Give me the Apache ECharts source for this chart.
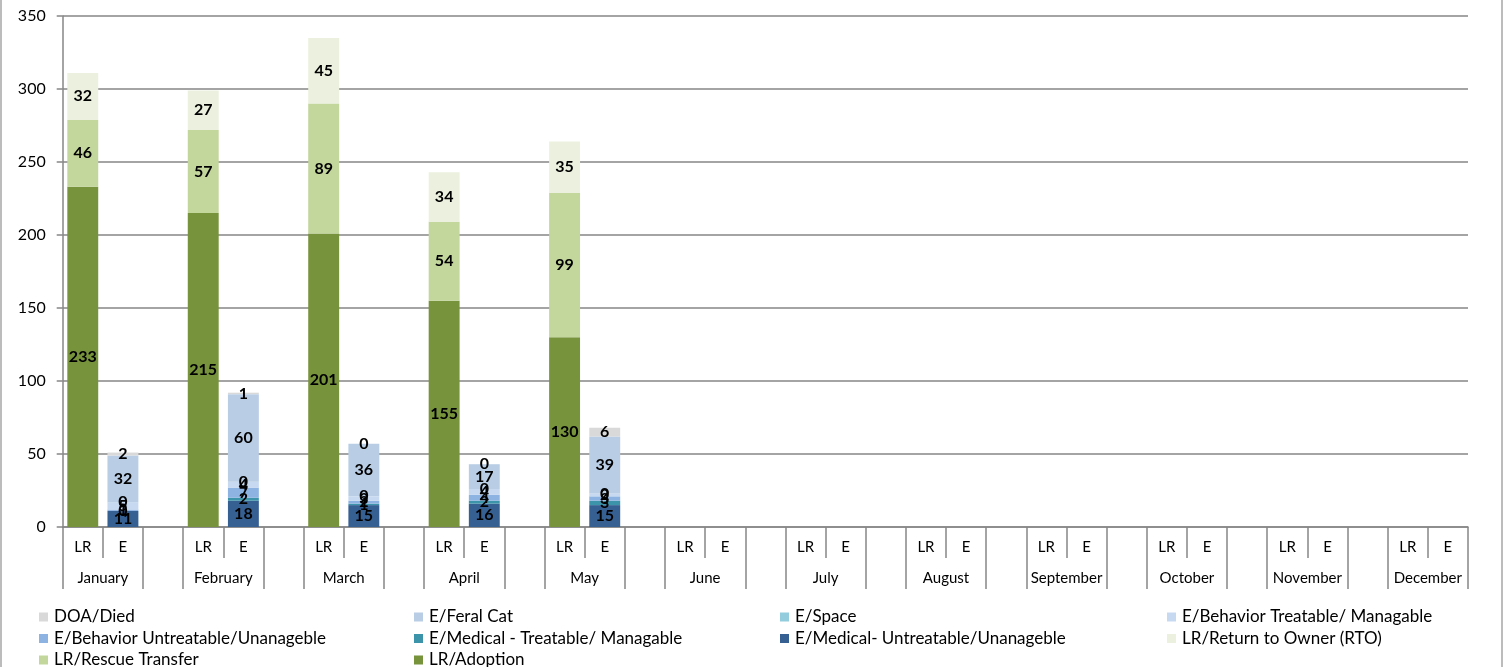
<!DOCTYPE html>
<html>
<head>
<meta charset="utf-8">
<script src="https://cdn.jsdelivr.net/npm/echarts@6/dist/echarts.min.js"></script>
<style>
html,body{margin:0;padding:0;background:#fff;}
#chart{width:1506px;height:667px;}
</style>
</head>
<body>
<div id="chart"></div>
<script>
// ---- data ----
const months = ['January','February','March','April','May','June','July','August','September','October','November','December'];
const barTypes = ['LR','E'];
const yTicks = { min: 0, max: 350, step: 50 };

const lrAdoption      = [233, 215, 201, 155, 130];
const lrRescue        = [46, 57, 89, 54, 99];
const lrRTO           = [32, 27, 45, 34, 35];
const eMedUntreatable = [11, 18, 15, 16, 15];
const eMedTreatable   = [0, 2, 1, 2, 3];
const eBehUntreatable = [1, 7, 2, 4, 3];
const eBehTreatable   = [5, 4, 3, 4, 2];
const eSpace          = [0, 0, 0, 0, 0];
const eFeralCat       = [32, 60, 36, 17, 39];
const doaDied         = [2, 1, 0, 0, 6];

const seriesDefs = [
  { name: 'LR/Adoption', bar: 'LR', values: lrAdoption, color: '#77933c' },
  { name: 'LR/Rescue Transfer', bar: 'LR', values: lrRescue, color: '#c3d69b' },
  { name: 'LR/Return to Owner (RTO)', bar: 'LR', values: lrRTO, color: '#ebf1de' },
  { name: 'E/Medical- Untreatable/Unanageble', bar: 'E', values: eMedUntreatable, color: '#376092' },
  { name: 'E/Medical - Treatable/ Managable', bar: 'E', values: eMedTreatable, color: '#3c94ab' },
  { name: 'E/Behavior Untreatable/Unanageble', bar: 'E', values: eBehUntreatable, color: '#8db3e2' },
  { name: 'E/Behavior Treatable/ Managable', bar: 'E', values: eBehTreatable, color: '#c6d9f1' },
  { name: 'E/Space', bar: 'E', values: eSpace, color: '#93cddd' },
  { name: 'E/Feral Cat', bar: 'E', values: eFeralCat, color: '#b9cde5' },
  { name: 'DOA/Died', bar: 'E', values: doaDied, color: '#d9d9d9' }
];

// ---- build slot axis: LR, E, gap per month (no gap after December) ----
const slots = [];
months.forEach((m, i) => {
  slots.push('LR'); slots.push('E');
  if (i < months.length - 1) slots.push('');
});
// month axis points (boundaryGap false): 36 points at slot boundaries
const monthPoints = [];
for (let k = 0; k <= slots.length; k++) {
  monthPoints.push(k % 3 === 1 ? months[(k - 1) / 3] : '');
}

function expand(def) {
  const arr = slots.map(() => null);
  const off = barTypes.indexOf(def.bar);
  def.values.forEach((v, i) => { arr[i * 3 + off] = v; });
  return arr;
}

const FONT = 'Lato, "Liberation Sans", sans-serif';
const GRAY = '#868686';

const series = seriesDefs.map(d => ({
  name: d.name,
  type: 'bar',
  stack: 'total',
  barCategoryGap: '23%',
  data: expand(d),
  itemStyle: { color: d.color },
  label: {
    show: true,
    position: 'inside',
    color: '#000',
    fontWeight: 'bold',
    fontSize: 16,
    fontFamily: FONT,
    formatter: p => (p.value === null || p.value === undefined) ? '' : String(p.value)
  },
  emphasis: { disabled: true }
}));

const legendCols = [
  { left: 39, names: ['DOA/Died', 'E/Behavior Untreatable/Unanageble', 'LR/Rescue Transfer'] },
  { left: 414, names: ['E/Feral Cat', 'E/Medical - Treatable/ Managable', 'LR/Adoption'] },
  { left: 780, names: ['E/Space', 'E/Medical- Untreatable/Unanageble'] },
  { left: 1167, names: ['E/Behavior Treatable/ Managable', 'LR/Return to Owner (RTO)'] }
];

const option = {
  animation: false,
  textStyle: { fontFamily: FONT },
  grid: { left: 62.7, right: 38, top: 16, bottom: 140, containLabel: false },
  legend: legendCols.map(c => ({
    orient: 'vertical',
    left: c.left,
    top: 608.5,
    height: 80,
    padding: 0,
    data: c.names,
    icon: 'rect',
    itemWidth: 9,
    itemHeight: 9,
    itemGap: 4.5,
    selectedMode: false,
    textStyle: { fontSize: 17, color: '#000', fontFamily: FONT, lineHeight: 16, padding: [0, 0, 0, 1] }
  })),
  xAxis: [
    {
      type: 'category',
      data: slots,
      position: 'bottom',
      axisLine: { show: true, lineStyle: { color: GRAY, width: 1.5 } },
      axisTick: { show: true, interval: 0, length: 31, lineStyle: { color: GRAY, width: 1.5 } },
      axisLabel: { interval: 0, margin: 13, fontSize: 15, color: '#000', fontFamily: FONT }
    },
    {
      type: 'category',
      data: monthPoints,
      position: 'bottom',
      boundaryGap: false,
      offset: 0,
      axisLine: { show: false },
      axisTick: { show: true, length: 62, interval: (idx) => idx % 3 !== 1, lineStyle: { color: GRAY, width: 1.5 } },
      axisLabel: { interval: (idx) => idx % 3 === 1, margin: 44, fontSize: 15, color: '#000', fontFamily: FONT },
      splitLine: { show: false }
    }
  ],
  yAxis: {
    type: 'value',
    min: yTicks.min,
    max: yTicks.max,
    interval: yTicks.step,
    axisLine: { show: true, lineStyle: { color: GRAY, width: 1.5 } },
    axisTick: { show: true, length: 6, lineStyle: { color: GRAY, width: 1.5 } },
    axisLabel: { margin: 17, fontSize: 16, color: '#000', fontFamily: FONT },
    splitLine: { show: true, lineStyle: { color: GRAY, width: 1.5 } }
  },
  graphic: [
    {
      type: 'rect',
      silent: true,
      shape: { x: 1, y: -20, width: 1501, height: 710 },
      style: { fill: 'none', stroke: '#a6a6a6', lineWidth: 1.5 }
    }
  ],
  series: series
};

const chart = echarts.init(document.getElementById('chart'), null, { renderer: 'canvas' });
chart.setOption(option);
</script>
</body>
</html>
